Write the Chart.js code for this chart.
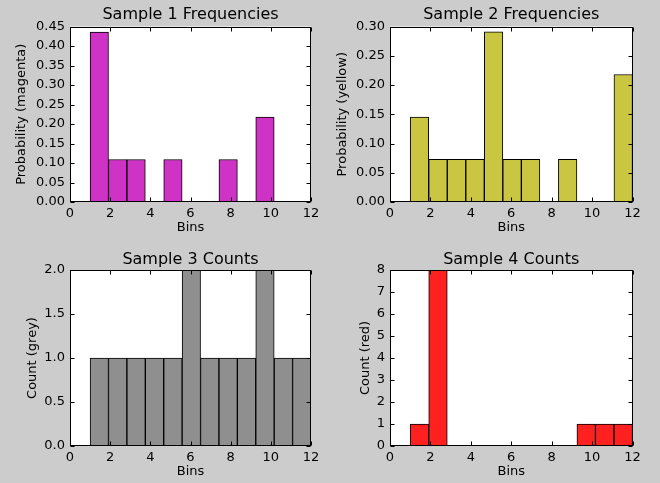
<!DOCTYPE html>
<html>
<head>
<meta charset="utf-8">
<script src="https://cdn.jsdelivr.net/npm/chart.js@4.4.1/dist/chart.umd.min.js"></script>
<style>
  html, body { margin: 0; padding: 0; background: #cccccc; }
  #fig { position: relative; width: 660px; height: 483px; background: #cccccc; }
  .panel { position: absolute; }
</style>
</head>
<body>
<div id="fig">
  <div class="panel" style="left:0;top:0"><canvas id="c1" width="330" height="240"></canvas></div>
  <div class="panel" style="left:330px;top:0"><canvas id="c2" width="330" height="240"></canvas></div>
  <div class="panel" style="left:0;top:240px"><canvas id="c3" width="330" height="243"></canvas></div>
  <div class="panel" style="left:330px;top:240px"><canvas id="c4" width="330" height="243"></canvas></div>
</div>
<script>
// bordas dos bins (12 bins de 1 a 12)
const binEdges = [1, 1.9167, 2.8333, 3.75, 4.6667, 5.5833, 6.5, 7.4167, 8.3333, 9.25, 10.1667, 11.0833, 12];

// valores
const sample1Freq = [0.436, 0.109, 0.109, 0, 0.109, 0, 0, 0.109, 0, 0.218, 0, 0];
const sample2Freq = [0.145, 0.073, 0.073, 0.073, 0.291, 0.073, 0.073, 0, 0.073, 0, 0, 0.218];
const sample3Counts = [1, 1, 1, 1, 1, 2, 1, 1, 1, 2, 1, 1];
const sample4Counts = [1, 8, 0, 0, 0, 0, 0, 0, 0, 1, 1, 1];

const xTicks = [0, 2, 4, 6, 8, 10, 12];

Chart.defaults.font.family = "'DejaVu Sans', sans-serif";
Chart.defaults.color = '#000';

// fundo branco da área do gráfico
const plotBg = {
    id: 'plotBg',
    beforeDraw(chart) {
        const { ctx, chartArea: a } = chart;
        ctx.save();
        ctx.fillStyle = '#ffffff';
        ctx.fillRect(a.left, a.top, a.right - a.left, a.bottom - a.top);
        ctx.restore();
    }
};

// título centrado sobre a área do gráfico (como no matplotlib)
const axesTitle = {
    id: 'axesTitle',
    afterDraw(chart, args, opts) {
        const { ctx, chartArea: a } = chart;
        ctx.save();
        ctx.fillStyle = '#000';
        ctx.font = "16px 'DejaVu Sans', sans-serif";
        ctx.textAlign = 'center';
        ctx.textBaseline = 'alphabetic';
        ctx.fillText(opts.text, (a.left + a.right) / 2, opts.baseline);
        ctx.restore();
    }
};

// moldura do eixo + ticks para dentro (estilo matplotlib clássico)
const frameTicks = {
    id: 'frameTicks',
    afterDatasetsDraw(chart) {
        const { ctx, chartArea: a, scales: { x, y } } = chart;
        const L = Math.round(a.left) + 0.5, R = Math.round(a.right) - 0.5;
        const T = Math.round(a.top) + 0.5, B = Math.round(a.bottom) - 0.5;
        ctx.save();
        ctx.strokeStyle = '#000';
        ctx.lineWidth = 1;
        ctx.beginPath();
        x.ticks.forEach(t => {
            const px = Math.round(x.getPixelForValue(t.value)) + 0.5;
            ctx.moveTo(px, B); ctx.lineTo(px, B - 4);
            ctx.moveTo(px, T); ctx.lineTo(px, T + 4);
        });
        y.ticks.forEach(t => {
            const py = Math.round(y.getPixelForValue(t.value)) + 0.5;
            ctx.moveTo(L, py); ctx.lineTo(L + 4, py);
            ctx.moveTo(R, py); ctx.lineTo(R - 4, py);
        });
        ctx.stroke();
        ctx.strokeRect(L, T, R - L, B - T);
        ctx.restore();
    }
};

function criarPainel(id, cfg) {
    const points = cfg.values.map((v, i) => ({ x: (binEdges[i] + binEdges[i + 1]) / 2, y: v }));
    return new Chart(document.getElementById(id), {
        type: 'bar',
        data: {
            datasets: [{
                data: points,
                backgroundColor: cfg.color,
                borderColor: '#000',
                borderWidth: 1,
                borderSkipped: false,
                barPercentage: 1,
                categoryPercentage: 1
            }]
        },
        options: {
            responsive: false,
            animation: false,
            layout: { padding: { left: 0, right: cfg.padRight, top: cfg.padTop, bottom: 0 } },
            plugins: {
                legend: { display: false },
                tooltip: { enabled: false },
                title: { display: false },
                axesTitle: { text: cfg.title, baseline: cfg.titleBaseline }
            },
            scales: {
                x: {
                    type: 'linear',
                    min: 0,
                    max: 12,
                    offset: false,
                    afterBuildTicks: s => { s.ticks = xTicks.map(v => ({ value: v })); },
                    afterFit: s => { s.height = cfg.xHeight; },
                    grid: { display: false, drawTicks: false },
                    border: { display: false },
                    ticks: { font: { size: 13 }, padding: 4, maxRotation: 0, callback: v => String(v) },
                    title: { display: true, text: 'Bins', font: { size: 13 }, padding: { top: 0, bottom: cfg.xTitlePad } }
                },
                y: {
                    min: 0,
                    max: cfg.yMax,
                    afterFit: s => { s.width = cfg.yWidth; },
                    grid: { display: false, drawTicks: false },
                    border: { display: false },
                    ticks: { stepSize: cfg.yStep, font: { size: 13 }, padding: 5, callback: v => v.toFixed(cfg.decimals) },
                    title: { display: true, text: cfg.yLabel, font: { size: 13 }, padding: { top: cfg.yTitlePad, bottom: 0 } }
                }
            }
        },
        plugins: [plotBg, frameTicks, axesTitle]
    });
}

criarPainel('c1', {
    values: sample1Freq, color: '#cf33c6', title: 'Sample 1 Frequencies',
    yLabel: 'Probability (magenta)', yMax: 0.45, yStep: 0.05, decimals: 2,
    yWidth: 70, padRight: 19, padTop: 26.5, xHeight: 38, titleBaseline: 19,
    xTitlePad: 4.2, yTitlePad: 14.2
});
criarPainel('c2', {
    values: sample2Freq, color: '#cbc641', title: 'Sample 2 Frequencies',
    yLabel: 'Probability (yellow)', yMax: 0.30, yStep: 0.05, decimals: 2,
    yWidth: 60, padRight: 27.5, padTop: 26.5, xHeight: 38, titleBaseline: 19,
    xTitlePad: 4.2, yTitlePad: 4.7
});
criarPainel('c3', {
    values: sample3Counts, color: '#8f8f8f', title: 'Sample 3 Counts',
    yLabel: 'Count (grey)', yMax: 2, yStep: 0.5, decimals: 1,
    yWidth: 70, padRight: 19, padTop: 30, xHeight: 37, titleBaseline: 24,
    xTitlePad: 3.2, yTitlePad: 24.7
});
criarPainel('c4', {
    values: sample4Counts, color: '#ff2020', title: 'Sample 4 Counts',
    yLabel: 'Count (red)', yMax: 8, yStep: 1, decimals: 0,
    yWidth: 60, padRight: 27.5, padTop: 30, xHeight: 37, titleBaseline: 24,
    xTitlePad: 3.2, yTitlePad: 27.7
});
</script>
</body>
</html>
